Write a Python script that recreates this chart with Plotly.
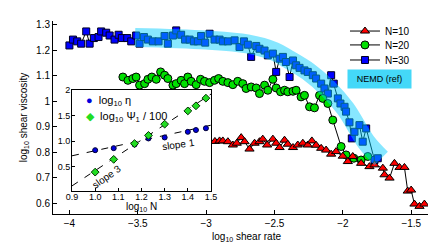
import plotly.graph_objects as go

# ---------------- main plot data (log10 shear rate, log10 shear viscosity) -------------
n30_x = [-4.000, -3.974, -3.943, -3.914, -3.877, -3.852, -3.821, -3.787, -3.768, -3.731,
         -3.706, -3.670, -3.640, -3.616, -3.577, -3.548, -3.512, -3.487, -3.455, -3.426,
         -3.390, -3.348, -3.304, -3.280, -3.243, -3.219, -3.183, -3.154, -3.121, -3.090,
         -3.061, -3.037, -3.007, -2.975, -2.939, -2.902, -2.878, -2.841, -2.792, -2.756,
         -2.724, -2.695, -2.671, -2.634, -2.610, -2.573, -2.549, -2.512, -2.488, -2.463,
         -2.439, -2.417, -2.390, -2.365, -2.342, -2.317, -2.281, -2.257, -2.220, -2.196,
         -2.159, -2.135, -2.110, -2.086, -2.067, -2.037, -2.018, -1.988, -1.977, -1.952,
         -1.935, -1.915, -1.879, -1.855, -1.830, -1.769, -1.745]
n30_y = [1.219, 1.242, 1.235, 1.226, 1.274, 1.226, 1.248, 1.252, 1.274, 1.269,
         1.258, 1.242, 1.261, 1.248, 1.248, 1.235, 1.258, 1.226, 1.252, 1.242,
         1.235, 1.235, 1.256, 1.226, 1.258, 1.278, 1.261, 1.242, 1.242, 1.235,
         1.235, 1.256, 1.230, 1.265, 1.242, 1.242, 1.235, 1.235, 1.239, 1.213,
         1.235, 1.222, 1.174, 1.217, 1.206, 1.199, 1.180, 1.187, 1.115, 1.167,
         1.174, 1.154, 1.095, 1.160, 1.141, 1.131, 1.121, 1.115, 1.102, 1.089,
         1.069, 1.050, 1.030, 1.102, 1.069, 1.011, 0.991, 0.978, 0.959, 0.917,
         0.854, 0.880, 0.906, 0.841, 0.893, 0.769, 0.776]

n20_x = [-3.609, -3.572, -3.536, -3.512, -3.487, -3.450, -3.426, -3.397, -3.365, -3.333,
         -3.304, -3.280, -3.243, -3.219, -3.183, -3.158, -3.134, -3.110, -3.073, -3.041,
         -3.012, -2.975, -2.939, -2.909, -2.878, -2.841, -2.805, -2.769, -2.732, -2.708,
         -2.671, -2.634, -2.610, -2.573, -2.549, -2.512, -2.488, -2.456, -2.427, -2.403,
         -2.365, -2.342, -2.306, -2.281, -2.244, -2.208, -2.171, -2.147, -2.110, -2.074,
         -2.013, -1.977, -1.920, -1.867, -1.818]
n20_y = [1.095, 1.082, 1.089, 1.095, 1.063, 1.069, 1.086, 1.095, 1.086, 1.115,
         1.102, 1.089, 1.063, 1.069, 1.082, 1.069, 1.095, 1.078, 1.065, 1.086,
         1.078, 1.073, 1.082, 1.089, 1.078, 1.073, 1.065, 1.078, 1.069, 1.050,
         1.056, 1.052, 1.030, 1.063, 1.043, 1.086, 1.052, 1.037, 1.043, 1.037,
         1.039, 1.043, 1.017, 1.023, 0.978, 0.974, 1.023, 1.011, 0.991, 0.926,
         0.822, 0.789, 0.776, 0.769, 0.783]

n10_x = [-2.936, -2.902, -2.878, -2.841, -2.805, -2.776, -2.744, -2.719, -2.683, -2.646,
         -2.610, -2.586, -2.554, -2.512, -2.488, -2.463, -2.427, -2.403, -2.365, -2.330,
         -2.293, -2.257, -2.227, -2.196, -2.159, -2.123, -2.086, -2.050, -2.001, -1.964,
         -1.928, -1.867, -1.806, -1.769, -1.708, -1.696, -1.659, -1.623, -1.586, -1.550,
         -1.526, -1.501, -1.477, -1.440, -1.404]
n10_y = [0.842, 0.844, 0.844, 0.841, 0.828, 0.835, 0.857, 0.841, 0.812, 0.835,
         0.841, 0.851, 0.828, 0.851, 0.835, 0.818, 0.847, 0.831, 0.818, 0.828,
         0.835, 0.828, 0.844, 0.827, 0.815, 0.808, 0.792, 0.802, 0.784, 0.763,
         0.783, 0.756, 0.743, 0.750, 0.737, 0.711, 0.698, 0.756, 0.740, 0.740,
         0.647, 0.651, 0.596, 0.587, 0.596]

nemd_x = [-3.52, -3.00, -2.70, -2.50, -2.40, -2.25, -2.11, -1.98, -1.83, -1.72]
nemd_y = [1.250, 1.240, 1.225, 1.195, 1.165, 1.115, 1.050, 0.970, 0.840, 0.775]

# ---------------- inset data (log10 N) ----------------
inset_n = [1.00, 1.08, 1.17, 1.23, 1.30, 1.40, 1.435, 1.478]
log_eta = [0.82, 0.86, 0.93, 1.05, 1.07, 1.18, 1.215, 1.25]
log_psi = [0.39, 0.64, 0.95, 1.11, 1.33, 1.59, 1.69, 1.84]
slope1_x = [0.90, 1.50]
slope1_y = [0.71, 1.31]
slope3_x = [0.90, 1.50]
slope3_y = [0.12, 1.92]

main_xticks = [-4, -3.5, -3, -2.5, -2, -1.5]
main_yticks = [0.6, 0.7, 0.8, 0.9, 1.0, 1.1, 1.2, 1.3]
inset_xticks = [0.9, 1.0, 1.1, 1.2, 1.3, 1.4, 1.5]
inset_xlabels = ["0.9", "1.0", "1.1", "1.2", "1.3", "1.4", "1.5"]
inset_yticks = [0.5, 1.0, 1.5, 2.0]
inset_ylabels = ["0.5", "1.0", "1.5", "2"]

FONT = "Liberation Sans, Arial, sans-serif"

fig = go.Figure()

fig.add_trace(go.Scatter(x=n30_x, y=n30_y, mode="lines+markers", name="N=30", legend="legend3",
                         line=dict(color="black", width=1),
                         marker=dict(symbol="square", size=7, color="#0000ff",
                                     line=dict(color="#000022", width=1))))
fig.add_trace(go.Scatter(x=n20_x, y=n20_y, mode="lines+markers", name="N=20", legend="legend2",
                         line=dict(color="black", width=1),
                         marker=dict(symbol="circle", size=8, color="#00e000",
                                     line=dict(color="black", width=1))))
fig.add_trace(go.Scatter(x=n10_x, y=n10_y, mode="lines+markers", name="N=10", legend="legend",
                         line=dict(color="black", width=1),
                         marker=dict(symbol="triangle-up", size=8, color="#ff0000",
                                     line=dict(color="black", width=1))))
fig.add_trace(go.Scatter(x=nemd_x, y=nemd_y, mode="lines", showlegend=False,
                         line=dict(color="rgba(0,205,255,0.47)", width=19, shape="spline"),
                         hoverinfo="skip"))

# inset
fig.add_trace(go.Scatter(x=slope1_x, y=slope1_y, mode="lines", xaxis="x2", yaxis="y2",
                         showlegend=False, line=dict(color="black", width=1, dash="7px,8px")))
fig.add_trace(go.Scatter(x=slope3_x, y=slope3_y, mode="lines", xaxis="x2", yaxis="y2",
                         showlegend=False, line=dict(color="black", width=1, dash="7px,8px")))
fig.add_trace(go.Scatter(x=inset_n, y=log_eta, mode="markers", xaxis="x2", yaxis="y2",
                         showlegend=False,
                         marker=dict(symbol="circle", size=5, color="#0000dd",
                                     line=dict(color="#000033", width=1))))
fig.add_trace(go.Scatter(x=inset_n, y=log_psi, mode="markers", xaxis="x2", yaxis="y2",
                         showlegend=False,
                         marker=dict(symbol="diamond", size=6, color="#22dd22",
                                     line=dict(color="#003300", width=1))))

axis_common = dict(showline=True, linecolor="black", linewidth=1, ticks="inside",
                   tickcolor="black", showgrid=False, zeroline=False, automargin=False,
                   tickfont=dict(family=FONT, size=10, color="black"))

legend_common = dict(xanchor="left", yanchor="middle", bgcolor="rgba(0,0,0,0)",
                     font=dict(family=FONT, size=10, color="black"), borderwidth=0)
LEG_X = 0.7545

fig.update_layout(
    template="none",
    width=436, height=244,
    margin=dict(l=45, r=4, t=13, b=38),
    paper_bgcolor="white", plot_bgcolor="white",
    font=dict(family=FONT, size=10, color="black"),
    xaxis=dict(axis_common, range=[-4.12, -1.29], tickvals=main_xticks, ticklen=4,
               title=dict(text="log<sub>10</sub> shear rate", font=dict(size=10), standoff=4)),
    yaxis=dict(axis_common, range=[0.557, 1.315], tickvals=main_yticks, ticklen=4,
               title=dict(text="log<sub>10</sub> shear viscosity", font=dict(size=10), standoff=6)),
    xaxis2=dict(axis_common, domain=[0.0491, 0.4083], anchor="y2", range=[0.9, 1.5],
                tickvals=inset_xticks, ticktext=inset_xlabels, ticklen=3, mirror=True,
                ticklabelstandoff=-3,
                tickfont=dict(family=FONT, size=9, color="black")),
    yaxis2=dict(axis_common, domain=[0.1192, 0.6425], anchor="x2", range=[0.02, 2.0],
                tickvals=inset_yticks, ticktext=inset_ylabels, ticklen=3, mirror=True,
                ticklabelstandoff=-1,
                tickfont=dict(family=FONT, size=9, color="black")),
    legend=dict(legend_common, x=LEG_X, y=0.948),
    legend2=dict(legend_common, x=LEG_X, y=0.876),
    legend3=dict(legend_common, x=LEG_X, y=0.798),
    showlegend=True,
)

fig.add_annotation(text="NEMD (ref)", xref="paper", yref="paper", x=0.8437, y=0.6995,
                   xanchor="center", yanchor="middle",
                   showarrow=False, bgcolor="#44d8f8", width=63, height=18, borderpad=0,
                   font=dict(family=FONT, size=9, color="black"))
fig.add_annotation(text='<span style="color:#0000dd">●</span>  log<sub>10</sub> η',
                   xref="x2", yref="y2", x=0.95, y=1.78, xanchor="left", yanchor="middle",
                   showarrow=False, font=dict(family=FONT, size=11, color="black"))
fig.add_annotation(text='<span style="color:#22dd22">◆</span>  log<sub>10</sub> Ψ<sub>1</sub> / 100',
                   xref="x2", yref="y2", x=0.95, y=1.47, xanchor="left", yanchor="middle",
                   showarrow=False, font=dict(family=FONT, size=11, color="black"))
fig.add_annotation(text="slope 1", xref="x2", yref="y2", x=1.36, y=0.94, showarrow=False,
                   textangle=-8, font=dict(family=FONT, size=10, color="black"))
fig.add_annotation(text="slope 3", xref="x2", yref="y2", x=1.05, y=0.31, showarrow=False,
                   textangle=-35, font=dict(family=FONT, size=10, color="black"))
fig.add_annotation(text="log<sub>10</sub> N", xref="x2 domain", yref="paper", x=0.5, y=0.035,
                   xanchor="center", yanchor="middle",
                   showarrow=False, font=dict(family=FONT, size=10, color="black"))

fig.write_html("out.html")
